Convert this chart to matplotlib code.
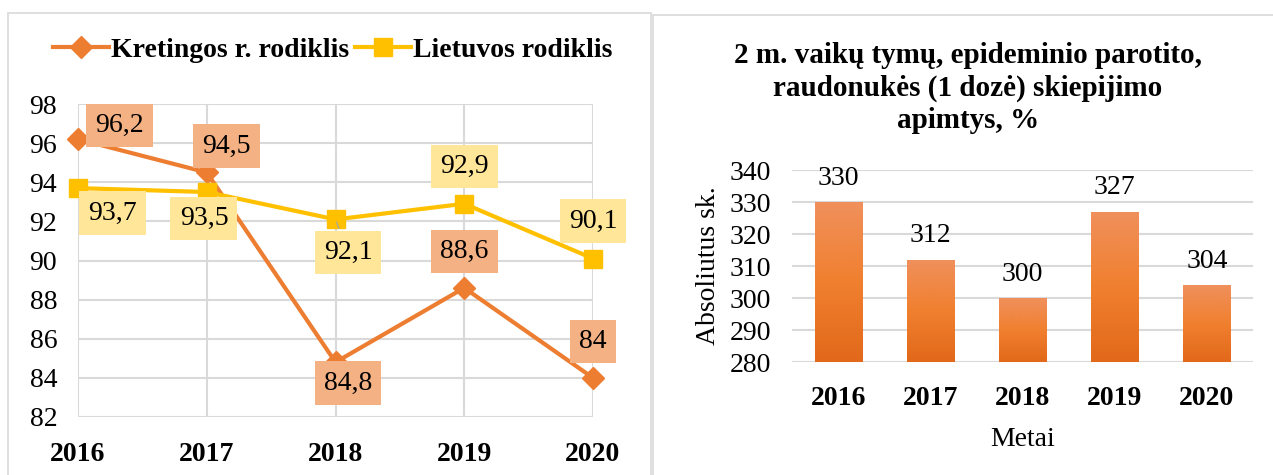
import matplotlib

matplotlib.use("Agg")
import matplotlib.pyplot as plt
import numpy as np
from matplotlib.colors import LinearSegmentedColormap
from matplotlib.patches import Rectangle

plt.rcParams["font.family"] = ["Liberation Serif", "DejaVu Serif"]

# Duomenys
years = ["2016", "2017", "2018", "2019", "2020"]
kretinga = [96.2, 94.5, 84.8, 88.6, 84.0]
lietuva = [93.7, 93.5, 92.1, 92.9, 90.1]
kretinga_lbl = ["96,2", "94,5", "84,8", "88,6", "84"]
lietuva_lbl = ["93,7", "93,5", "92,1", "92,9", "90,1"]
# etikečių poslinkiai taškais (x, y)
kretinga_off = [(30, 10), (14, 19), (9, -15), (0, 26), (0, 26)]
lietuva_off = [(25, -18), (-2, -19), (9, -24), (0, 27), (0, 27)]

counts = [330, 312, 300, 327, 304]

ORANGE = "#ED7D31"
YELLOW = "#FFC000"
GRID = "#D9D9D9"

fig = plt.figure(figsize=(12.73, 4.75), dpi=100)
W, H = 1273, 475

# rėmeliai aplink abi diagramas
fig.patches.append(Rectangle((8 / W, -0.1), 643 / W, 1 - 13 / H + 0.1,
                             transform=fig.transFigure, fill=False,
                             edgecolor=GRID, lw=1.2))
fig.patches.append(Rectangle((653 / W, -0.1), 0.6, 1 - 15 / H + 0.1,
                             transform=fig.transFigure, fill=False,
                             edgecolor=GRID, lw=1.2))

# 1. Linijinė diagrama
ax = fig.add_axes([78 / W, 1 - 417 / H, 515 / W, 313 / H])
x = np.arange(len(years))
ax.plot(x, kretinga, color=ORANGE, lw=3, marker="D", ms=11, clip_on=False,
        zorder=3, label="Kretingos r. rodiklis")
ax.plot(x, lietuva, color=YELLOW, lw=3, marker="s", ms=13, clip_on=False,
        zorder=3, label="Lietuvos rodiklis")
ax.set_xlim(0, 4)
ax.set_ylim(82, 98)
ax.set_yticks(np.arange(82, 99, 2))
ax.set_xticks(x)
ax.set_xticklabels(years, fontweight="bold")
ax.tick_params(length=0, labelsize=20, pad=15)
ax.tick_params(axis="x", pad=18)
ax.grid(True, color=GRID, lw=1.5)
ax.set_axisbelow(True)
for s in ax.spines.values():
    s.set_visible(False)

for xi, v, t, off in zip(x, kretinga, kretinga_lbl, kretinga_off):
    ax.annotate(t, (xi, v), xytext=off, textcoords="offset points",
                ha="center", va="center", fontsize=20, zorder=5,
                bbox=dict(boxstyle="square,pad=0.33", fc="#F4B183", ec="none"))
for i, (xi, v, t, off) in enumerate(zip(x, lietuva, lietuva_lbl, lietuva_off)):
    arrow = dict(arrowstyle="-", color="#A6A6A6", lw=0.9) if i == 2 else None
    ax.annotate(t, (xi, v), xytext=off, textcoords="offset points",
                ha="center", va="center", fontsize=20, zorder=5,
                arrowprops=arrow,
                bbox=dict(boxstyle="square,pad=0.33", fc="#FFE699", ec="none"))

fig.legend(*ax.get_legend_handles_labels(), loc="center", ncol=2,
           bbox_to_anchor=(333 / W, 1 - 50 / H), frameon=False,
           prop=dict(weight="bold", size=20), handlelength=2.0,
           handletextpad=0.1, columnspacing=0.2)

# 2. Stulpelinė diagrama
ax2 = fig.add_axes([792 / W, 1 - 362 / H, 461 / W, 192 / H])
bars = ax2.bar(x, [c - 280 for c in counts], bottom=280, width=0.51,
               color="none", zorder=3)
ax2.set_yticks(np.arange(280, 341, 10))
ax2.set_xticks(x)
ax2.set_xticklabels(years, fontweight="bold")
ax2.tick_params(length=0, labelsize=20, pad=15)
ax2.tick_params(axis="x", pad=17)
ax2.grid(True, axis="y", color=GRID, lw=1.5)
ax2.set_axisbelow(True)
for s in ax2.spines.values():
    s.set_visible(False)

grad = LinearSegmentedColormap.from_list("g", ["#E2681A", "#F0802F", "#F0905C"])
img = np.linspace(0, 1, 256).reshape(-1, 1)
for b, c in zip(bars, counts):
    im = ax2.imshow(img, cmap=grad, origin="lower", aspect="auto", zorder=3,
                    extent=(b.get_x(), b.get_x() + b.get_width(), 280, c))
    im.set_clip_path(b)
    ax2.annotate(str(c), (b.get_x() + b.get_width() / 2, c), xytext=(0, 8),
                 textcoords="offset points", ha="center", va="bottom",
                 fontsize=20)
ax2.set_xlim(-0.5, 4.5)
ax2.set_ylim(280, 340)

ax2.set_ylabel("Absoliutus sk.", fontsize=20, labelpad=6)
ax2.set_xlabel("Metai", fontsize=20, labelpad=12)

fig.text(968 / W, 1 - 88 / H,
         "2 m. vaikų tymų, epideminio parotito,\nraudonukės (1 dozė) skiepijimo\napimtys, %",
         ha="center", va="center", fontsize=21, fontweight="bold",
         linespacing=1.25)

fig.savefig("out.png", dpi=100)
